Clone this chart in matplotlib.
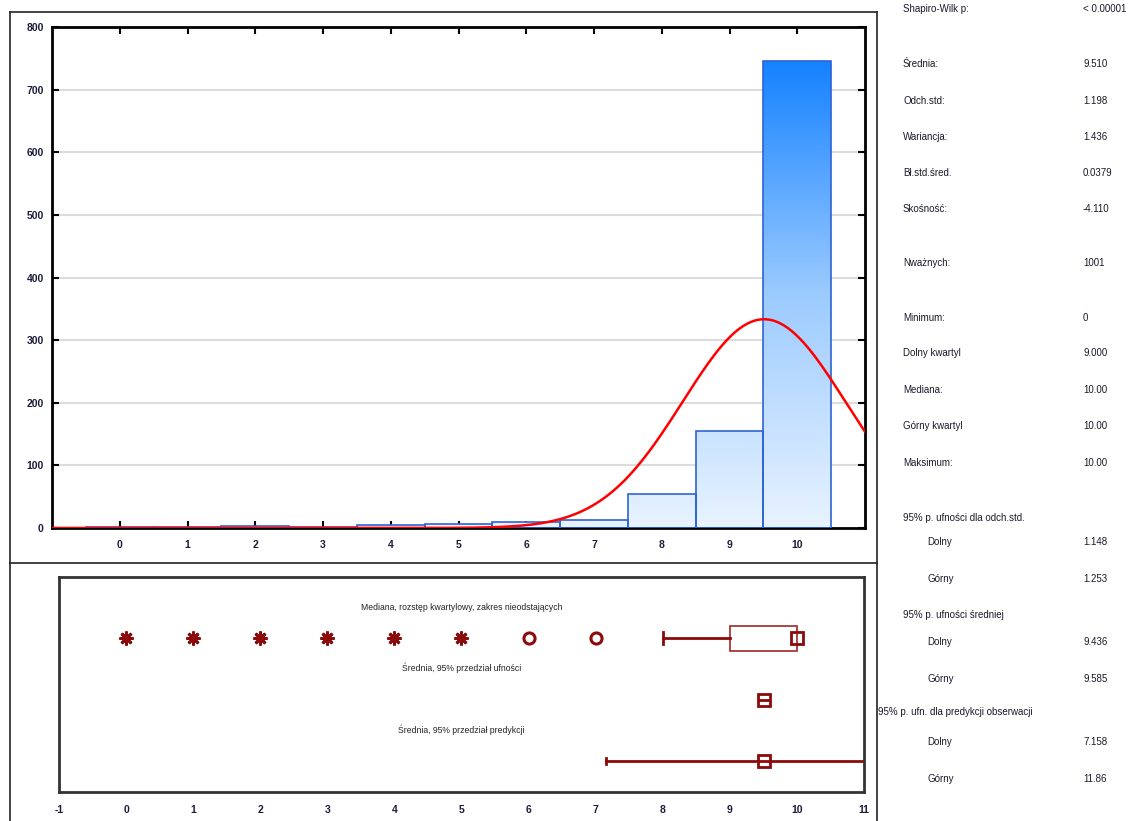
import numpy as np
import matplotlib.pyplot as plt
from matplotlib.lines import Line2D
from matplotlib.patches import Rectangle
from matplotlib.colors import LinearSegmentedColormap

plt.rcParams['font.family'] = ['Liberation Sans', 'DejaVu Sans']
plt.rcParams['axes.unicode_minus'] = False

# histogram counts per value
values = [0, 1, 2, 3, 4, 5, 6, 7, 8, 9, 10]
counts = [1, 1, 3, 1, 4, 6, 10, 12, 54, 155, 745]

# summary statistics
n_valid = 1001
mean = 9.510
sd = 1.198
q1, median, q3 = 9.0, 10.0, 10.0
whisker_lo, whisker_hi = 8.0, 10.0
outliers = [6, 7]
extremes = [0, 1, 2, 3, 4, 5]
ci_mean = (9.436, 9.585)
pred_int = (7.158, 11.86)

stat_labels = ['Shapiro-Wilk p:', 'Średnia:', 'Odch.std:', 'Wariancja:', 'Bł.std.śred.',
               'Skośność:', 'Nważnych:', 'Minimum:', 'Dolny kwartyl', 'Mediana:',
               'Górny kwartyl', 'Maksimum:', '95% p. ufności dla odch.std.', 'Dolny', 'Górny',
               '95% p. ufności średniej', 'Dolny', 'Górny',
               '95% p. ufn. dla predykcji obserwacji', 'Dolny', 'Górny']
stat_values = ['< 0.00001', '9.510', '1.198', '1.436', '0.0379', '-4.110', '1001', '0',
               '9.000', '10.00', '10.00', '10.00', '', '1.148', '1.253', '', '9.436', '9.585',
               '', '7.158', '11.86']
stat_rows_px = [9, 64, 101, 137, 173, 209, 263, 318, 353, 390, 426, 463, 518, 542, 579,
                615, 642, 679, 712, 742, 779]
stat_x_px = [903] * 12 + [903, 927, 927, 903, 927, 927, 878, 927, 927]

W, H = 1132, 821
fig = plt.figure(figsize=(W / 100, H / 100), dpi=100)
fig.patch.set_facecolor('white')

tick_color = '#1c1c3a'
dark_red = '#8b0a0a'

# ---- histogram ----
ax = fig.add_axes([52 / W, 1 - 528 / H, (865 - 52) / W, (528 - 27) / H])
ax.set_xlim(-1, 11)
ax.set_ylim(0, 800)
for y in range(100, 800, 100):
    ax.axhline(y, color='#dcdcdc', lw=1.5, zorder=0)

cmap = LinearSegmentedColormap.from_list('bars', ['#e8f3ff', '#9ccbff', '#1582ff'])
grad = np.linspace(0, 1, 256).reshape(-1, 1)
for v, c in zip(values, counts):
    rect = Rectangle((v - 0.5, 0), 1, c, facecolor='none', edgecolor='#2f62d6', lw=1.2, zorder=3)
    ax.add_patch(rect)
    im = ax.imshow(grad, cmap=cmap, origin='lower', extent=[-1, 11, 0, 745],
                   aspect='auto', zorder=2, interpolation='bilinear')
    im.set_clip_path(rect)

xs = np.linspace(-1, 11, 400)
curve = n_valid * np.exp(-0.5 * ((xs - mean) / sd) ** 2) / (sd * np.sqrt(2 * np.pi))
ax.plot(xs, curve, color='#ff0000', lw=1.8, zorder=4)

ax.set_xticks(values)
ax.set_yticks(range(0, 801, 100))
ax.tick_params(axis='both', direction='in', length=5, width=1.5, colors='black',
               labelcolor=tick_color, labelsize=7.5, top=True, right=True)
ax.tick_params(axis='x', pad=9)
ax.tick_params(axis='y', pad=6)
for lbl in ax.get_xticklabels() + ax.get_yticklabels():
    lbl.set_fontweight('bold')
for s in ax.spines.values():
    s.set_linewidth(2)

# ---- box plot panel ----
bx = fig.add_axes([59 / W, 1 - 792 / H, (864 - 59) / W, (792 - 577) / H])
bx.set_xlim(-1, 11)
bx.set_ylim(1, 0)
bx.set_yticks([])
bx.set_xticks(range(-1, 12))
bx.tick_params(axis='x', length=0, pad=9, labelsize=7.5, labelcolor=tick_color)
for lbl in bx.get_xticklabels():
    lbl.set_fontweight('bold')
for s in bx.spines.values():
    s.set_linewidth(2)
    s.set_color('#333333')

row1, row2, row3 = 0.284, 0.572, 0.856
bx.text(5, 0.144, 'Mediana, rozstęp kwartylowy, zakres nieodstających', ha='center', va='center',
        fontsize=6.2, color='#222')
bx.text(5, 0.423, 'Średnia, 95% przedział ufności', ha='center', va='center', fontsize=6.2, color='#222')
bx.text(5, 0.712, 'Średnia, 95% przedział predykcji', ha='center', va='center', fontsize=6.2, color='#222')

bx.plot(extremes, [row1] * len(extremes), ls='none', marker=(8, 2, 0), ms=10, mew=2,
        color=dark_red, clip_on=False)
bx.plot(outliers, [row1] * len(outliers), ls='none', marker='o', ms=8, mew=2.2, mfc='none',
        color=dark_red)
bx.plot([whisker_lo, q1], [row1, row1], color=dark_red, lw=2)
bx.plot([whisker_lo, whisker_lo], [row1 - 0.028, row1 + 0.028], color=dark_red, lw=2)
bx.add_patch(Rectangle((q1, row1 - 0.058), q3 - q1, 0.116, facecolor='white',
                       edgecolor='#a02828', lw=1.2))
bx.plot([median], [row1], ls='none', marker='s', ms=9, mew=2, mfc='none', color=dark_red)

bx.plot(list(ci_mean), [row2, row2], color=dark_red, lw=2)
bx.plot([mean], [row2], ls='none', marker='s', ms=8, mew=2, mfc='none', color=dark_red)

bx.plot(list(pred_int), [row3, row3], color=dark_red, lw=2)
bx.plot([pred_int[0]] * 2, [row3 - 0.012, row3 + 0.012], color=dark_red, lw=2)
bx.plot([mean], [row3], ls='none', marker='s', ms=9, mew=2, mfc='none', color=dark_red)

# ---- statistics column ----
for lab, val, ypx, xpx in zip(stat_labels, stat_values, stat_rows_px, stat_x_px):
    fig.text(xpx / W, 1 - ypx / H, lab, ha='left', va='center', fontsize=7, color='#1a1a2a')
    if val:
        fig.text(1083 / W, 1 - ypx / H, val, ha='left', va='center', fontsize=7, color='#1a1a2a')

# ---- panel frames ----
fx = lambda px: px / W
fy = lambda px: 1 - px / H
for x0, y0, x1, y1 in [(10, 12, 877, 12), (10, 12, 10, 821), (877, 12, 877, 821),
                       (10, 563, 877, 563)]:
    fig.add_artist(Line2D([fx(x0), fx(x1)], [fy(y0), fy(y1)], color='#222', lw=1.2))

fig.savefig('out.png', dpi=100)
